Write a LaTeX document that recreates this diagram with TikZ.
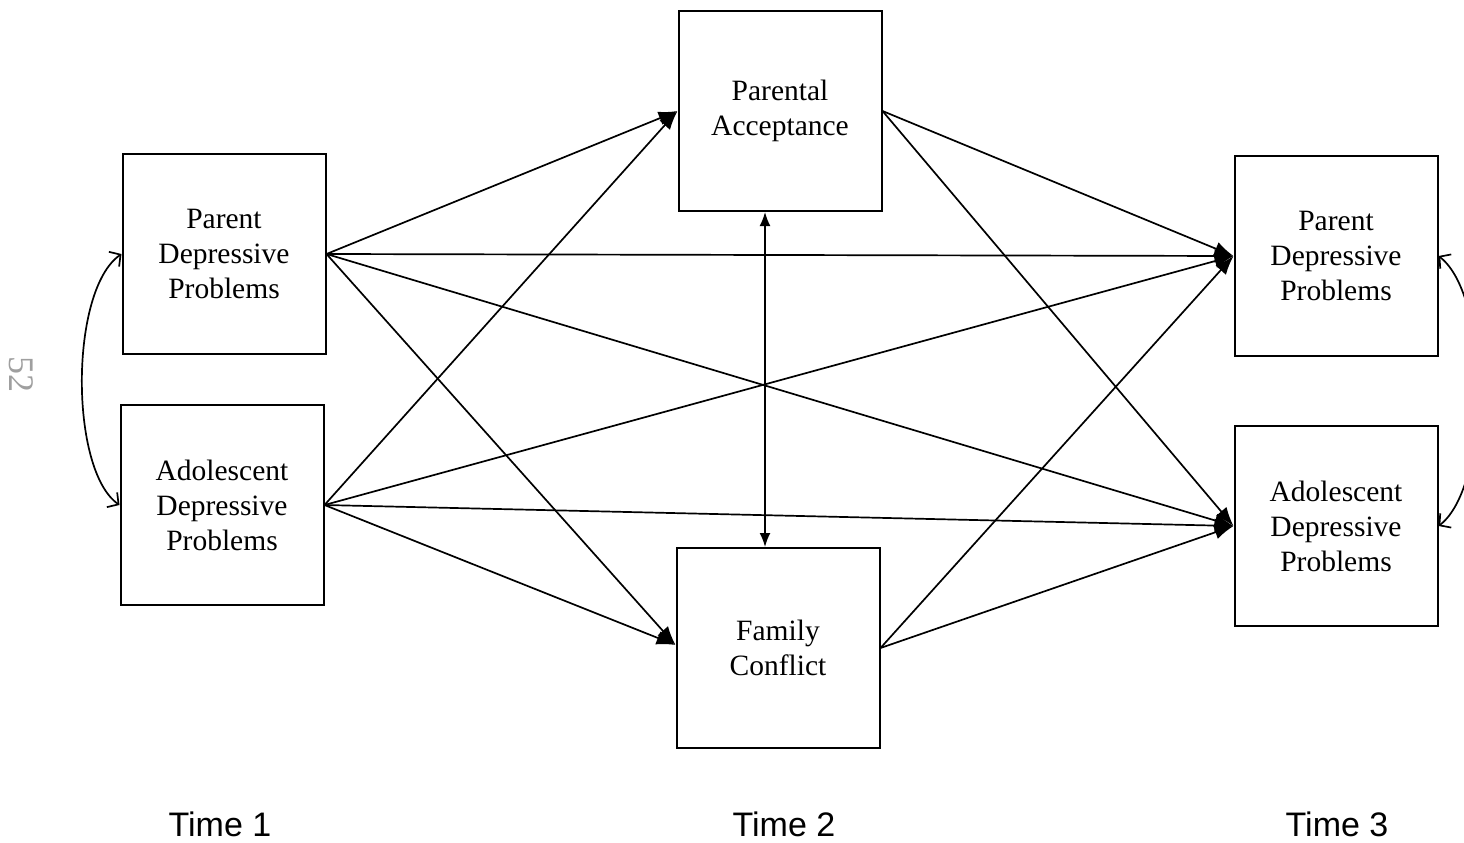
\documentclass[tikz,border=0pt]{standalone}
\usepackage{fontspec}
\setmainfont{Liberation Serif}
\newfontfamily\timefont{Liberation Sans}
\usetikzlibrary{arrows.meta}
\tikzset{
  box/.style={draw, line width=2pt, minimum width=203pt, minimum height=200pt, align=center, inner sep=0pt, font=\fontsize{29.5}{35}\selectfont},
  path/.style={line width=1.7pt, -{Latex[length=19pt,width=14pt]}},
  cov/.style={line width=1.7pt, {Latex[length=14pt,width=11pt]}-{Latex[length=14pt,width=11pt]}},
  corr/.style={line width=1.7pt, {Straight Barb[length=8pt,width=18pt]}-{Straight Barb[length=8pt,width=18pt]}},
  timelabel/.style={font=\timefont\fontsize{34}{38}\selectfont},
}
\begin{document}
\begin{tikzpicture}[x=1pt,y=-1pt]
\useasboundingbox (0,0) rectangle (1464,843);
\node[box] (PD1) at (224,254) {Parent\\Depressive\\Problems};
\node[box] (AD1) at (222,505) {Adolescent\\Depressive\\Problems};
\node[box] (PA) at (780,111) {Parental\\Acceptance};
\node[box] (FC) at (778,648) {Family\\Conflict};
\node[box] (PD3) at (1336,256) {Parent\\Depressive\\Problems};
\node[box] (AD3) at (1336,526) {Adolescent\\Depressive\\Problems};

\draw[path] (PD1.east) -- (PA.west);
\draw[path] (PD1.east) -- (PD3.west);
\draw[path] (PD1.east) -- ([yshift=3pt]FC.west);
\draw[path] (PD1.east) -- (AD3.west);
\draw[path] (AD1.east) -- (PA.west);
\draw[path] (AD1.east) -- (PD3.west);
\draw[path] (AD1.east) -- (AD3.west);
\draw[path] (AD1.east) -- ([yshift=3pt]FC.west);
\draw[path] (PA.east) -- (PD3.west);
\draw[path] (PA.east) -- (AD3.west);
\draw[path] (FC.east) -- (PD3.west);
\draw[path] (FC.east) -- (AD3.west);

\draw[cov] ([xshift=-15pt]PA.south) -- ([xshift=-13pt]FC.north);

\draw[corr] (PD1.west) .. controls +(-52,36) and +(-50,-35) .. (AD1.west);
\draw[corr] (PD3.east) .. controls +(52,40) and +(52,-40) .. (AD3.east);

\node[rotate=-90, text=gray!75, font=\fontsize{36}{40}\selectfont] (pg) at (21,374) {52};

\node[timelabel] (t1) at (220,824) {Time 1};
\node[timelabel] (t2) at (784,824) {Time 2};
\node[timelabel] (t3) at (1337,824) {Time 3};
\end{tikzpicture}
\end{document}
